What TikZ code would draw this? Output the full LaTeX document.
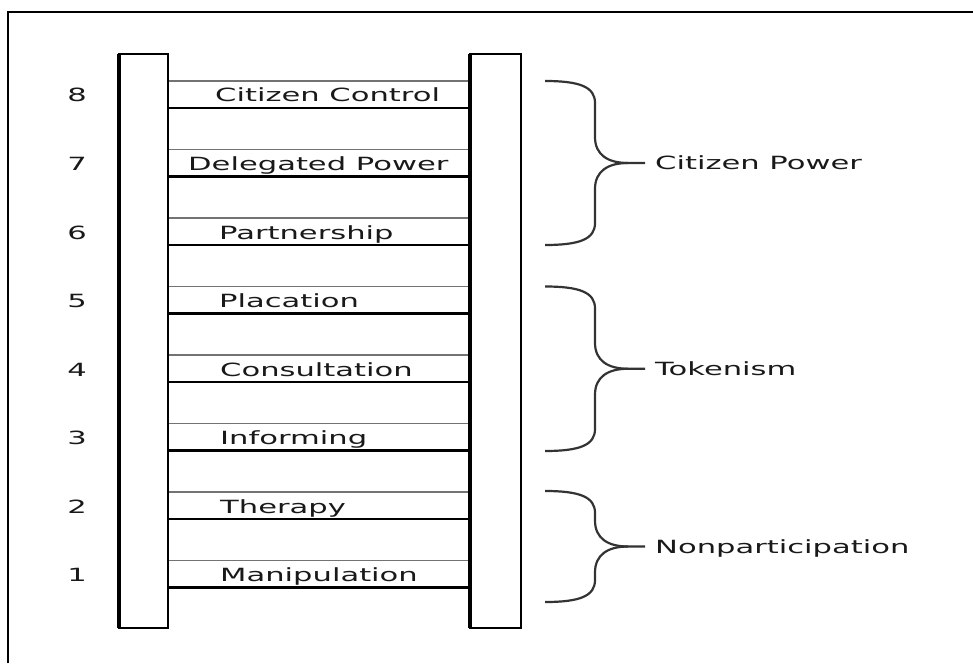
\documentclass[tikz,border=0pt]{standalone}
\usepackage{fontspec}
\setmainfont{DejaVu Sans}[FakeStretch=1.68]
\usetikzlibrary{positioning}

\begin{document}
\begin{tikzpicture}[x=1pt, y=-1pt,
    rail/.style={draw=black, line width=2pt, fill=white},
    railedge/.style={draw=black, line width=4pt},
    rungtop/.style={draw=black!55, line width=1.6pt},
    rungbot/.style={draw=black, line width=2.8pt},
    lbl/.style={anchor=base west, inner sep=0pt, text=black!90, font=\fontsize{18.2pt}{20pt}\selectfont},
    brace/.style={draw=black!80, line width=2.2pt}]

    \useasboundingbox (0,0) rectangle (973,663);

    % Frame (only top and left edge show)
    \draw[line width=2.5pt] (8,663) -- (8,12) -- (973,12);

    % Rungs with their labels and numbers
    \foreach \k/\txt/\x in {8/Citizen Control/215, 7/Delegated Power/188,
        6/Partnership/219, 5/Placation/219, 4/Consultation/220,
        3/Informing/220, 2/Therapy/220, 1/Manipulation/220} {
        \pgfmathsetmacro{\ry}{81+(8-\k)*68.5}
        \draw[rungtop] (168,\ry) -- (470,\ry);
        \draw[rungbot] (168,\ry+27) -- (470,\ry+27);
        \node[lbl] (rung\k) at (\x,\ry+21) {\txt};
        \node[lbl, anchor=base] (num\k) at (77,\ry+21) {\k};
    }

    % Rails
    \draw[rail] (119,54) rectangle (168,628);
    \draw[railedge] (119,54) -- (119,628);
    \draw[rail] (470,54) rectangle (521,628);
    \draw[railedge] (470,54) -- (470,628);

    % Braces with group names
    \foreach \ta/\bb/\nm/\txt in {81/245/power/Citizen Power,
        286.5/451/token/Tokenism, 491/602/nonp/Nonparticipation} {
        \pgfmathsetmacro{\md}{(\ta+\bb)/2}
        \draw[brace] (545,\ta) .. controls (580,\ta) and (595,\ta+6) .. (595,\ta+22)
            -- (595,\md-26) .. controls (595,\md-8) and (608,\md) .. (628,\md)
            -- (645,\md);
        \draw[brace] (628,\md) .. controls (608,\md) and (595,\md+8) .. (595,\md+26)
            -- (595,\bb-22) .. controls (595,\bb-6) and (580,\bb) .. (545,\bb);
        \node[lbl] (\nm) at (655,\md+7) {\txt};
    }
\end{tikzpicture}
\end{document}
